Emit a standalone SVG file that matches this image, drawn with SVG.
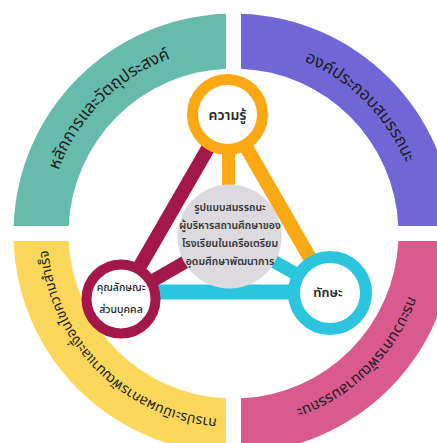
<svg xmlns="http://www.w3.org/2000/svg" width="437" height="443" viewBox="0 0 437 443">
  <style>
    .arc-label { font-family: "Noto Sans Thai", "Noto Sans", "DejaVu Sans", sans-serif; font-size: 17px; fill: #1c1c1c; }
    .node-label { font-family: "Noto Sans Thai", "Noto Sans", "DejaVu Sans", sans-serif; fill: #262626; text-anchor: middle; }
    .core-label { font-family: "Noto Sans Thai", "Noto Sans", "DejaVu Sans", sans-serif; font-size: 10.5px; fill: #333; text-anchor: middle; font-weight: 600; }
    .ring { fill: #ffffff; }
    .bar { stroke-linecap: butt; fill: none; }
  </style>
  <defs>
    <!-- clockwise baselines, one per quadrant -->
    <path id="baseTL" d="M 47.5 233.5 A 186 186 0 0 1 233.5 47.5"/>
    <path id="baseTR" d="M 233.5 47.5 A 186 186 0 0 1 419.5 233.5"/>
    <path id="baseBR" d="M 419.5 233.5 A 186 186 0 0 1 233.5 419.5"/>
    <path id="baseBL" d="M 233.5 419.5 A 186 186 0 0 1 47.5 233.5"/>
  </defs>

  <rect width="437" height="443" fill="#ffffff"/>

  <!-- outer ring quadrants -->
  <g id="principles">
    <path d="M 13.63 226 A 220 220 0 0 1 226 13.63 L 226 68.67 A 165 165 0 0 0 68.67 226 Z" fill="#67bbad"/>
    <text class="arc-label"><textPath href="#baseTL" startOffset="50%" text-anchor="middle">หลักการและวัตถุประสงค์</textPath></text>
  </g>
  <g id="components">
    <path d="M 241 13.63 A 220 220 0 0 1 453.37 226 L 398.33 226 A 165 165 0 0 0 241 68.67 Z" fill="#7066d6"/>
    <text class="arc-label"><textPath href="#baseTR" startOffset="50%" text-anchor="middle">องค์ประกอบสมรรถนะ</textPath></text>
  </g>
  <g id="process">
    <path d="M 453.37 241 A 220 220 0 0 1 241 453.37 L 241 398.33 A 165 165 0 0 0 398.33 241 Z" fill="#d95b8e"/>
    <text class="arc-label" style="font-size:15px"><textPath href="#baseBR" startOffset="50%" text-anchor="middle">กระบวนการพัฒนาสมรรถนะ</textPath></text>
  </g>
  <g id="evaluation">
    <path d="M 226 453.37 A 220 220 0 0 1 13.63 241 L 68.67 241 A 165 165 0 0 0 226 398.33 Z" fill="#fbd85c"/>
    <text class="arc-label" style="font-size:14px"><textPath href="#baseBL" startOffset="50%" text-anchor="middle">การประเมินผลการพัฒนาและเงื่อนไขความสำเร็จ</textPath></text>
  </g>

  <!-- connectors between the three competency nodes and the core -->
  <g id="connectors" class="bar">
    <line x1="121" y1="292" x2="330" y2="292" stroke="#2bc5dd" stroke-width="15"/>
    <line x1="330" y1="293" x2="229.5" y2="236.5" stroke="#2bc5dd" stroke-width="13"/>
    <line x1="227.5" y1="114.5" x2="330" y2="293" stroke="#fba815" stroke-width="14"/>
    <line x1="228.5" y1="114.5" x2="228.5" y2="236.5" stroke="#fba815" stroke-width="13"/>
    <line x1="121" y1="299" x2="227.5" y2="114.5" stroke="#a3174b" stroke-width="14"/>
    <line x1="121" y1="299" x2="229.5" y2="236.5" stroke="#a3174b" stroke-width="13"/>
  </g>

  <g id="core">
    <circle cx="229.5" cy="236.5" r="52" fill="#dcdadf"/>
    <text class="core-label" x="230" y="211">รูปแบบสมรรถนะ</text>
    <text class="core-label" x="230" y="229">ผู้บริหารสถานศึกษาของ</text>
    <text class="core-label" x="230" y="247">โรงเรียนในเครือเตรียม</text>
    <text class="core-label" x="230" y="265">อุดมศึกษาพัฒนาการ</text>
  </g>

  <g id="knowledge">
    <circle class="ring" cx="227.5" cy="114.5" r="35" stroke="#fba815" stroke-width="11"/>
    <text class="node-label" x="227.5" y="120" style="font-size:14px;font-weight:600">ความรู้</text>
  </g>

  <g id="skills">
    <circle class="ring" cx="330" cy="293" r="36" stroke="#2bc5dd" stroke-width="12"/>
    <text class="node-label" x="328" y="297" style="font-size:13px;font-weight:600">ทักษะ</text>
  </g>

  <g id="traits">
    <circle class="ring" cx="121" cy="299" r="34.5" stroke="#a3174b" stroke-width="10"/>
    <text class="node-label" x="121" y="291" style="font-size:10.5px;font-weight:500">คุณลักษณะ</text>
    <text class="node-label" x="121" y="313" style="font-size:10.5px;font-weight:500">ส่วนบุคคล</text>
  </g>
</svg>
